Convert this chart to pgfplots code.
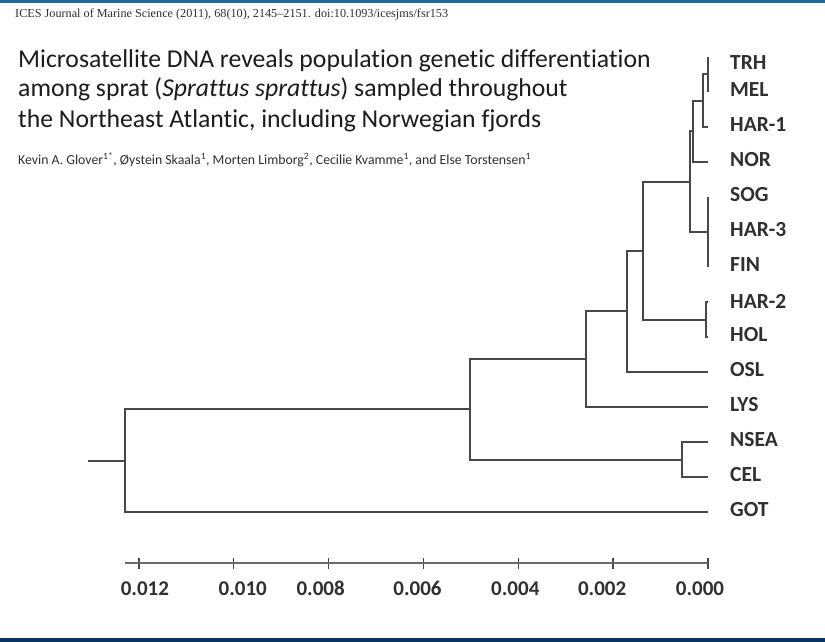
\documentclass[border=0pt]{standalone}
\usepackage{pgfplots}
\pgfplotsset{compat=1.18}
\usepackage{fontspec}
\setmainfont{Carlito}[Ligatures={TeX,NoCommon}]
\newfontfamily\hdrfont{Liberation Serif}
\definecolor{topbar}{RGB}{28,108,160}
\definecolor{botbar}{RGB}{10,52,96}
\definecolor{treec}{RGB}{72,72,72}
\definecolor{axisc}{RGB}{105,105,105}
\definecolor{labc}{RGB}{48,48,48}
\definecolor{titc}{RGB}{28,28,28}
\begin{document}
\begin{tikzpicture}
\path[use as bounding box] (0pt,0pt) rectangle (825pt,642pt);
\fill[white] (0pt,0pt) rectangle (825pt,642pt);
\fill[topbar] (0pt,638.5pt) rectangle (825pt,642pt);
\fill[botbar] (0pt,0pt) rectangle (825pt,4pt);
\node[anchor=base west, inner sep=0pt, text=labc] at (15pt,624pt) {\hdrfont\fontsize{12.2}{14}\selectfont ICES Journal of Marine Science (2011), 68(10), 2145–2151. doi:10.1093/icesjms/fsr153};
\node[anchor=base west, inner sep=0pt, text=titc] at (18pt,574pt) {\fontsize{25.7}{30}\selectfont Microsatellite DNA reveals population genetic differentiation};
\node[anchor=base west, inner sep=0pt, text=titc] at (18pt,545pt) {\fontsize{25.7}{30}\selectfont among sprat (\textit{Sprattus sprattus}) sampled throughout};
\node[anchor=base west, inner sep=0pt, text=titc] at (18pt,514pt) {\fontsize{25.7}{30}\selectfont the Northeast Atlantic, including Norwegian fjords};
\node[anchor=base west, inner sep=0pt, text=labc] at (18pt,477pt) {\fontsize{13.8}{16}\selectfont Kevin A. Glover\textsuperscript{1*}, Øystein Skaala\textsuperscript{1}, Morten Limborg\textsuperscript{2}, Cecilie Kvamme\textsuperscript{1}, and Else Torstensen\textsuperscript{1}};
\begin{axis}[
  at={(124.7pt,79pt)}, anchor=south west, scale only axis,
  width=583.3pt, height=541pt,
  xmin=0, xmax=0.0123, ymin=0, ymax=15.457,
  x dir=reverse, y dir=reverse, clip=false,
  axis y line=none, axis x line=bottom,
  axis line style={-, draw=axisc, line width=2.2pt},
  scaled x ticks=false,
  xtick={0,0.002,0.004,0.006,0.008,0.010,0.012},
  xticklabels={{\hspace{-16pt}0.000},{\hspace{-22pt}0.002},{\hspace{-6pt}0.004},{\hspace{-12pt}0.006},{\hspace{-16pt}0.008},{\hspace{18pt}0.010},{\hspace{12pt}0.012}},
  tick align=center, major tick length=11pt,
  tick style={draw=treec, line width=1.4pt},
  xticklabel style={font=\fontsize{21}{21}\selectfont\bfseries, text=labc, anchor=north, inner sep=0pt, text height=14pt, text depth=0pt, yshift=-13pt},
  tree/.style={draw=treec, line width=2pt, line join=miter, mark=none},
]
\addplot[tree] coordinates {(0,1) (0,2)};
\addplot[tree] coordinates {(0,1.5) (0.000105,1.5) (0.000105,3) (0,3)};
\addplot[tree] coordinates {(0.000105,2.25) (0.000316,2.25) (0.000316,4) (0,4)};
\addplot[tree] coordinates {(0,5) (0,7)};
\addplot[tree] coordinates {(0.000316,3.125) (0.00038,3.125) (0.00038,6) (0,6)};
\addplot[tree] coordinates {(0,8) (0.00004,8) (0.00004,9) (0,9)};
\addplot[tree] coordinates {(0.00038,4.5625) (0.00137,4.5625) (0.00137,8.5) (0.00004,8.5)};
\addplot[tree] coordinates {(0.00137,6.53125) (0.00171,6.53125) (0.00171,10) (0,10)};
\addplot[tree] coordinates {(0.00171,8.265625) (0.00257,8.265625) (0.00257,11) (0,11)};
\addplot[tree] coordinates {(0,12) (0.00055,12) (0.00055,13) (0,13)};
\addplot[tree] coordinates {(0.00257,9.6328) (0.00502,9.6328) (0.00502,12.5) (0.00055,12.5)};
\addplot[tree] coordinates {(0.00502,11.0664) (0.01229,11.0664) (0.01229,14) (0,14)};
\addplot[tree] coordinates {(0.01229,12.5332) (0.01307,12.5332)};
\begin{scope}[every node/.style={anchor=west, inner sep=0pt, xshift=22pt, text=labc, font=\fontsize{21.5}{22}\selectfont\bfseries}]
\node at (axis cs:0,1.17) {TRH};
\node at (axis cs:0,1.94) {MEL};
\node at (axis cs:0,2.94) {HAR-1};
\node at (axis cs:0,3.94) {NOR};
\node at (axis cs:0,4.94) {SOG};
\node at (axis cs:0,5.94) {HAR-3};
\node at (axis cs:0,6.94) {FIN};
\node at (axis cs:0,7.98) {HAR-2};
\node at (axis cs:0,8.94) {HOL};
\node at (axis cs:0,9.94) {OSL};
\node at (axis cs:0,10.94) {LYS};
\node at (axis cs:0,11.94) {NSEA};
\node at (axis cs:0,12.94) {CEL};
\node at (axis cs:0,13.94) {GOT};
\end{scope}
\end{axis}
\end{tikzpicture}
\end{document}
